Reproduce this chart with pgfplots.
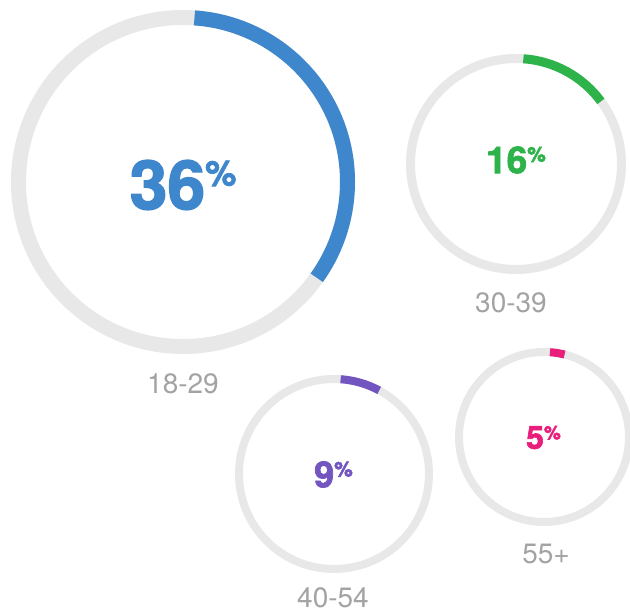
\documentclass[border=0pt]{standalone}
\usepackage{pgfplots}
\pgfplotsset{compat=1.18}
\usepackage{fontspec}
\setmainfont{TeX Gyre Heros}
\newfontfamily\heavy{TeX Gyre Heros}[BoldFeatures={FakeBold=2}]
\definecolor{ringgray}{HTML}{E8E8E8}
\definecolor{labgray}{HTML}{A3A3A3}
\definecolor{cblue}{HTML}{3F87CD}
\definecolor{cgreen}{HTML}{2DB34A}
\definecolor{cpurple}{HTML}{7355C0}
\definecolor{cpink}{HTML}{E91E7A}
% #1 cx, #2 cy, #3 radius, #4 width, #5 percent, #6 colour
\newcommand\ring[6]{%
  \draw[ringgray, line width=#4pt] (axis cs:#1,#2) circle[radius=#3pt];
  \draw[#6, line width=#4pt] (axis cs:#1,#2) ++({90-4}:#3pt)
     arc[start angle={90-4}, end angle={90-3.6*#5+4}, radius=#3pt];
}
% #1 big size, #2 small size, #3 number
\newcommand\pct[3]{\heavy\fontsize{#1}{#1}\selectfont\bfseries #3\raisebox{\dimexpr(#1pt-#2pt)*72/100\relax}{\fontsize{#2}{#2}\selectfont\%}}
\newcommand\lab[1]{\fontsize{28}{28}\selectfont #1}
\begin{document}
\begin{tikzpicture}
\begin{axis}[x=1pt, y=1pt, xmin=0, xmax=630, ymin=0, ymax=613,
  hide axis, scale only axis]
\path (axis cs:0,0) rectangle (axis cs:630,613);
\ring{183}{431}{164.5}{15}{36}{cblue}
\ring{516}{449}{105.5}{9}{16}{cgreen}
\ring{334}{139}{95}{8}{9}{cpurple}
\ring{544}{176}{85}{8}{5}{cpink}
\node[cblue] at (axis cs:183,428) {\pct{68}{35}{36}};
\node[cgreen] at (axis cs:516,453) {\pct{37}{21}{16}};
\node[cpurple] at (axis cs:333.5,138.5) {\pct{36}{21}{9}};
\node[cpink] at (axis cs:543.5,175.5) {\pct{32}{19}{5}};
\node[labgray] at (axis cs:183,229) {\lab{18-29}};
\node[labgray] at (axis cs:511,310) {\lab{30-39}};
\node[labgray] at (axis cs:333,15) {\lab{40-54}};
\node[labgray] at (axis cs:546,59) {\lab{55+}};
\end{axis}
\end{tikzpicture}
\end{document}
